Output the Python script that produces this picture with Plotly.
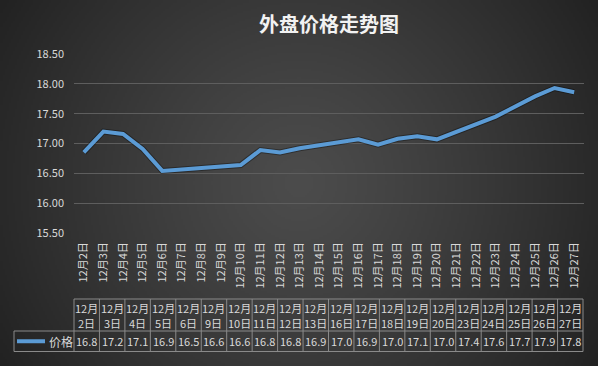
import base64
import math
import struct
import zlib

import numpy as np
import plotly.graph_objects as go

# ---------------- data ----------------
all_days = list(range(2, 28))
axis_labels = [f"12月{d}日" for d in all_days]
trade_days = [2, 3, 4, 5, 6, 9, 10, 11, 12, 13, 16, 17, 18, 19, 20, 23, 24, 25, 26, 27]
prices = [16.85, 17.20, 17.16, 16.91, 16.54, 16.62, 16.64, 16.89, 16.85, 16.92,
          17.07, 16.98, 17.08, 17.12, 17.07, 17.45, 17.62, 17.79, 17.93, 17.86]
series_name = "价格"
title_text = "外盘价格走势图"

trade_labels = [f"12月{d}日" for d in trade_days]
head_line1 = ["12月" for d in trade_days]
head_line2 = [f"{d}日" for d in trade_days]
table_vals = [f"{math.floor(v * 10 + 1e-6) / 10:.1f}" for v in prices]

# ---------------- geometry ----------------
W, H = 598, 366
L, R, T, B = 74, 14, 54, 133
PW, PH = W - L - R, H - T - B


def px(x):
    return (x - L) / PW


def py(y):
    return (H - B - y) / PH


# ---------------- background gradient ----------------
bw, bh = 299, 183
yy, xx = np.mgrid[0:bh, 0:bw]
d = np.sqrt(((xx + 0.5) * 2 - W / 2) ** 2 + ((yy + 0.5) * 2 - H / 2) ** 2)
t = np.clip(d / math.hypot(W / 2, H / 2), 0, 1)
c_center, c_edge = 76.0, 34.0
val = (c_center + (c_edge - c_center) * t ** 1.2).astype(np.uint8)
img = np.stack([val, val, val], axis=-1)


def make_png(a):
    h, w, _ = a.shape
    raw = b"".join(b"\x00" + a[i].tobytes() for i in range(h))

    def chunk(tag, data):
        c = struct.pack(">I", len(data)) + tag + data
        return c + struct.pack(">I", zlib.crc32(tag + data) & 0xFFFFFFFF)

    return (b"\x89PNG\r\n\x1a\n" + chunk(b"IHDR", struct.pack(">IIBBBBB", w, h, 8, 2, 0, 0, 0))
            + chunk(b"IDAT", zlib.compress(raw, 9)) + chunk(b"IEND", b""))


bg_src = "data:image/png;base64," + base64.b64encode(make_png(img)).decode()

# ---------------- figure ----------------
FONT = "Noto Sans CJK SC"
TXT = "#d9d9d9"
GRID = "#5e5e5e"
BORDER = "#8a8a8a"
BLUE = "#5b9bd5"

fig = go.Figure()
fig.add_trace(go.Scatter(x=trade_labels, y=prices, mode="lines", name=series_name,
                         line=dict(color="rgba(0,0,0,0.35)", width=6), hoverinfo="skip",
                         showlegend=False))
fig.add_trace(go.Scatter(x=trade_labels, y=prices, mode="lines", name=series_name,
                         line=dict(color=BLUE, width=4), showlegend=False))

shapes = []
annotations = []

# table
n = len(trade_days)
x0t, x1t = L, W - R - 1
cw = (x1t - x0t) / n
y_top, y_mid, y_bot = 299, 331, 351.5
line_style = dict(color=BORDER, width=1)
shapes.append(dict(type="line", xref="paper", yref="paper", x0=px(x0t), x1=px(x1t),
                   y0=py(y_top), y1=py(y_top), line=line_style))
shapes.append(dict(type="line", xref="paper", yref="paper", x0=px(14), x1=px(x1t),
                   y0=py(y_mid), y1=py(y_mid), line=line_style))
shapes.append(dict(type="line", xref="paper", yref="paper", x0=px(14), x1=px(x1t),
                   y0=py(y_bot), y1=py(y_bot), line=line_style))
shapes.append(dict(type="line", xref="paper", yref="paper", x0=px(14), x1=px(14),
                   y0=py(y_mid), y1=py(y_bot), line=line_style))
for i in range(n + 1):
    xc = x0t + i * cw
    shapes.append(dict(type="line", xref="paper", yref="paper", x0=px(xc), x1=px(xc),
                       y0=py(y_top), y1=py(y_bot), line=line_style))
cell_font = dict(family=FONT, size=11, color=TXT)
for i in range(n):
    xc = x0t + (i + 0.5) * cw
    annotations.append(dict(xref="paper", yref="paper", x=px(xc), y=py(307.5),
                            text=head_line1[i], showarrow=False, font=cell_font,
                            xanchor="center", yanchor="middle"))
    annotations.append(dict(xref="paper", yref="paper", x=px(xc), y=py(323),
                            text=head_line2[i], showarrow=False, font=cell_font,
                            xanchor="center", yanchor="middle"))
    annotations.append(dict(xref="paper", yref="paper", x=px(xc), y=py((y_mid + y_bot) / 2),
                            text=table_vals[i], showarrow=False, font=cell_font,
                            xanchor="center", yanchor="middle"))
# legend key
shapes.append(dict(type="line", xref="paper", yref="paper", x0=px(17), x1=px(45),
                   y0=py((y_mid + y_bot) / 2), y1=py((y_mid + y_bot) / 2),
                   line=dict(color=BLUE, width=4)))
annotations.append(dict(xref="paper", yref="paper", x=px(47), y=py((y_mid + y_bot) / 2),
                        text=series_name, showarrow=False,
                        font=dict(family=FONT, size=12, color=TXT),
                        xanchor="left", yanchor="middle"))

fig.update_layout(
    width=W, height=H,
    margin=dict(l=L, r=R, t=T, b=B, autoexpand=False),
    paper_bgcolor="#333333",
    plot_bgcolor="rgba(0,0,0,0)",
    showlegend=False,
    title=dict(text=title_text, x=0.5, xref="paper", xanchor="center",
               y=1 - 25 / H, yref="container", yanchor="middle",
               font=dict(family=FONT, size=20, color="#f2f2f2", weight="bold")),
    font=dict(family=FONT, color=TXT, size=11),
    images=[dict(source=bg_src, xref="paper", yref="paper", x=-L / PW, y=1 + T / PH,
                 sizex=W / PW, sizey=H / PH, sizing="stretch", xanchor="left",
                 yanchor="top", layer="below")],
    shapes=shapes,
    annotations=annotations,
)
fig.update_xaxes(type="category", categoryorder="array", categoryarray=axis_labels,
                 tickvals=axis_labels, range=[-0.5, len(axis_labels) - 0.5],
                 tickangle=-90, showgrid=False, showline=False, zeroline=False,
                 automargin=False,
                 tickfont=dict(family=FONT, size=11, color=TXT), ticklabelstandoff=6)
fig.update_yaxes(range=[15.5, 18.5], dtick=0.5, tickformat=".2f", showgrid=True,
                 gridcolor=GRID, gridwidth=1, zeroline=False, showline=False,
                 automargin=False,
                 tickfont=dict(family=FONT, size=11, color=TXT), ticklabelstandoff=9)

fig.write_html("out.html", config={"displayModeBar": False},
               post_script="document.body.style.margin='0';document.body.style.overflow='hidden';")
